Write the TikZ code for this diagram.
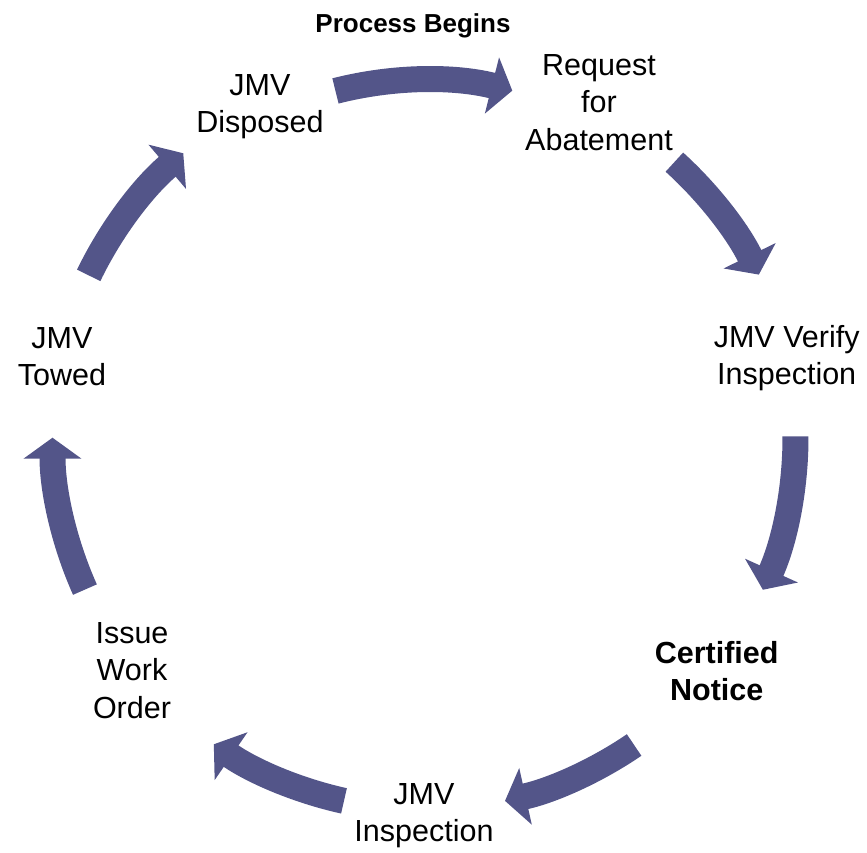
\documentclass[tikz,border=0pt]{standalone}
\usepackage{fontspec}
\setmainfont{Liberation Sans}
\usepackage{tikz}
\usetikzlibrary{arrows.meta}

\definecolor{cyclearrow}{RGB}{83,85,137}

\tikzset{
    stage/.style={anchor=north, inner sep=0pt, align=center,
        font=\fontsize{30.5}{37.5}\selectfont},
    flowarrow/.style={draw=cyclearrow, line width=26pt,
        -{Triangle[width=57pt, length=21pt]}}
}

\begin{document}
\begin{tikzpicture}[x=1pt, y=1pt]
    % frame, centre of the cycle at the origin
    \useasboundingbox (-424.5,-415.3) rectangle (442.5,437.7);

    % Stages
    \node[stage, font=\bfseries\fontsize{26}{30}\selectfont] (begins) at (-11.5,424.4) {Process Begins};
    \node[stage] (request) at (174.5,383.7) {Request\\for\\Abatement};
    \node[stage] (verify) at (362.2,112.7) {JMV Verify\\Inspection};
    \node[stage, font=\bfseries\fontsize{30.5}{37.5}\selectfont] (notice) at (292.2,-203.3) {Certified\\Notice};
    \node[stage] (inspection) at (-0.5,-345.6) {JMV\\Inspection};
    \node[stage] (workorder) at (-292.5,-184.3) {Issue\\Work\\Order};
    \node[stage] (towed) at (-362.5,110.7) {JMV\\Towed};
    \node[stage] (disposed) at (-164.5,363.7) {JMV\\Disposed};

    % Arrows round the cycle
    \draw[flowarrow] (104.4:358) arc[start angle=104.4, end angle=75.8, radius=358]; % disposed -> request
    \draw[flowarrow] (47.8:372) arc[start angle=47.8, end angle=26, radius=372];
    \draw[flowarrow] (0.2:371) arc[start angle=0.2, end angle=-24.2, radius=371];
    \draw[flowarrow] (-55.7:372) arc[start angle=-55.7, end angle=-77.5, radius=372];
    \draw[flowarrow] (-102.5:372) arc[start angle=-102.5, end angle=-124.5, radius=372];
    \draw[flowarrow] (204.1:372) arc[start angle=204.1, end angle=180, radius=372];
    \draw[flowarrow] (154.2:373) arc[start angle=154.2, end angle=130.3, radius=373]; % towed -> disposed
\end{tikzpicture}
\end{document}
